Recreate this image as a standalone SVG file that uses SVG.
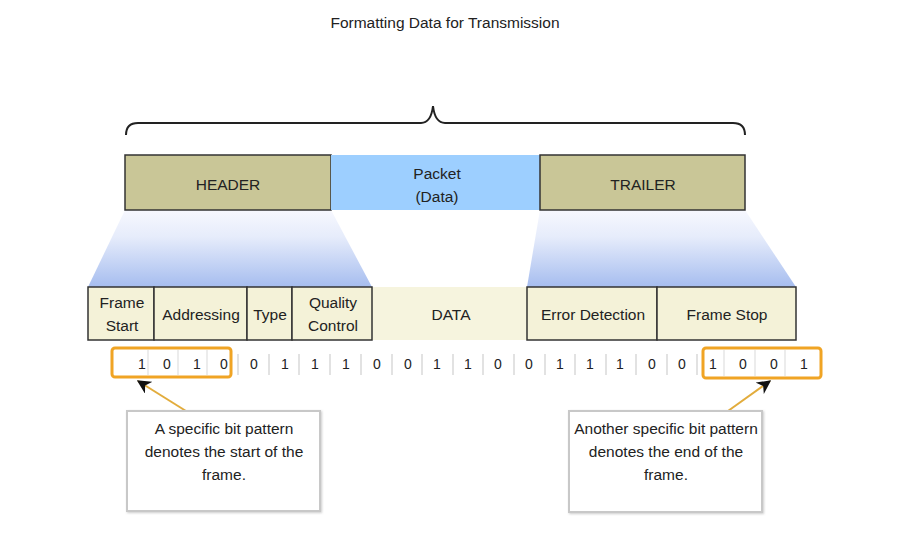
<svg xmlns="http://www.w3.org/2000/svg" width="917" height="534" viewBox="0 0 917 534">
<defs>
<linearGradient id="fade" x1="0" y1="0" x2="0" y2="1">
<stop offset="0" stop-color="#f7f8fe"/>
<stop offset="0.35" stop-color="#e6ecfb"/>
<stop offset="1" stop-color="#a6bdef"/>
</linearGradient>
<marker id="ah" viewBox="0 0 10 10" refX="9" refY="5" markerWidth="7" markerHeight="7" orient="auto-start-reverse" markerUnits="strokeWidth">
<path d="M0,0 L10,5 L0,10 L3,5 z" fill="#111"/>
</marker>
<filter id="sh" x="-10%" y="-10%" width="120%" height="120%">
<feDropShadow dx="1" dy="1" stdDeviation="1" flood-color="#999" flood-opacity="0.5"/>
</filter>
</defs>
<style>
text{font-family:"Liberation Sans",Arial,sans-serif;font-size:15.5px;fill:#222;text-anchor:middle;dominant-baseline:central}
.box{stroke:#333;stroke-width:1.5}
.hdr{fill:#c9c697}
.fld{fill:#f4f2d8}
.bit{font-size:14px}
.sep{stroke:#d8d8d8;stroke-width:1.5}
.obox{fill:none;stroke:#f0a424;stroke-width:3}
.odiv{stroke:#d9d9d9;stroke-width:1}
.call{fill:#fff;stroke:#c8c8c8;stroke-width:2}
.lead{stroke:#e2ac3c;stroke-width:2;fill:none}
</style>
<rect width="917" height="534" fill="#fff"/>
<text x="445" y="22">Formatting Data for Transmission</text>
<g id="brace">
<path d="M126,135 Q126,123 138,123 L421,123 Q431,123 433,106 Q435,123 445,123 L733,123 Q745,123 745,135" fill="none" stroke="#222" stroke-width="2"/>
</g>
<g id="fades">
<polygon points="125,210 331,210 372,287 88,287" fill="url(#fade)"/>
<polygon points="540,210 745,210 796,287 527,287" fill="url(#fade)"/>
</g>
<g id="header"><rect class="box hdr" x="125" y="155" width="206" height="55"/><text x="228" y="184">HEADER</text></g>
<g id="packet"><rect x="331" y="155" width="209" height="55" fill="#9dcfff"/><text x="437" y="173">Packet</text><text x="437" y="196">(Data)</text></g>
<g id="trailer"><rect class="box hdr" x="540" y="155" width="205" height="55"/><text x="643" y="184">TRAILER</text></g>
<g id="data"><rect x="372" y="287" width="155" height="53" fill="#f6f4de"/><text x="451" y="314">DATA</text></g>
<g id="framestart"><rect class="box fld" x="88" y="287" width="66" height="53"/><text x="122" y="302">Frame</text><text x="122" y="325">Start</text></g>
<g id="addressing"><rect class="box fld" x="154" y="287" width="93" height="53"/><text x="201" y="314">Addressing</text></g>
<g id="type"><rect class="box fld" x="247" y="287" width="45" height="53"/><text x="270" y="314">Type</text></g>
<g id="quality"><rect class="box fld" x="292" y="287" width="80" height="53"/><text x="333" y="302">Quality</text><text x="333" y="325">Control</text></g>
<g id="errordetection"><rect class="box fld" x="527" y="287" width="130" height="53"/><text x="593" y="314">Error Detection</text></g>
<g id="framestop"><rect class="box fld" x="657" y="287" width="139" height="53"/><text x="727" y="314">Frame Stop</text></g>
<g id="startbits">
<rect x="112" y="348" width="119" height="29" rx="3" fill="#fff"/>
<line class="odiv" x1="148" y1="350" x2="148" y2="375"/><line class="odiv" x1="178" y1="350" x2="178" y2="375"/><line class="odiv" x1="207" y1="350" x2="207" y2="375"/>
<text class="bit" x="142" y="364">1</text><text class="bit" x="167" y="364">0</text><text class="bit" x="197" y="364">1</text><text class="bit" x="224" y="364">0</text>
<rect class="obox" x="112" y="348" width="119" height="29" rx="3"/>
</g>
<g id="bits">
<line class="sep" x1="238" y1="354" x2="238" y2="375"/><line class="sep" x1="269" y1="354" x2="269" y2="375"/><line class="sep" x1="299" y1="354" x2="299" y2="375"/><line class="sep" x1="330" y1="354" x2="330" y2="375"/><line class="sep" x1="361" y1="354" x2="361" y2="375"/><line class="sep" x1="392" y1="354" x2="392" y2="375"/><line class="sep" x1="422" y1="354" x2="422" y2="375"/><line class="sep" x1="453" y1="354" x2="453" y2="375"/><line class="sep" x1="483" y1="354" x2="483" y2="375"/><line class="sep" x1="514" y1="354" x2="514" y2="375"/><line class="sep" x1="545" y1="354" x2="545" y2="375"/><line class="sep" x1="575" y1="354" x2="575" y2="375"/><line class="sep" x1="606" y1="354" x2="606" y2="375"/><line class="sep" x1="636" y1="354" x2="636" y2="375"/><line class="sep" x1="667" y1="354" x2="667" y2="375"/><line class="sep" x1="697" y1="354" x2="697" y2="375"/>
<text class="bit" x="254" y="364">0</text><text class="bit" x="285" y="364">1</text><text class="bit" x="315" y="364">1</text><text class="bit" x="346" y="364">1</text><text class="bit" x="377" y="364">0</text><text class="bit" x="408" y="364">0</text><text class="bit" x="437" y="364">1</text><text class="bit" x="468" y="364">1</text><text class="bit" x="498" y="364">0</text><text class="bit" x="529" y="364">0</text><text class="bit" x="560" y="364">1</text><text class="bit" x="590" y="364">1</text><text class="bit" x="620" y="364">1</text><text class="bit" x="652" y="364">0</text><text class="bit" x="682" y="364">0</text>
</g>
<g id="stopbits">
<rect x="703" y="348" width="118" height="30" rx="3" fill="#fff"/>
<line class="odiv" x1="724" y1="350" x2="724" y2="376"/><line class="odiv" x1="755" y1="350" x2="755" y2="376"/><line class="odiv" x1="785" y1="350" x2="785" y2="376"/>
<text class="bit" x="713" y="364">1</text><text class="bit" x="743" y="364">0</text><text class="bit" x="774" y="364">0</text><text class="bit" x="804" y="364">1</text>
<rect class="obox" x="703" y="348" width="118" height="30" rx="3"/>
</g>
<g id="connectors">
<line class="lead" x1="186" y1="411" x2="138" y2="381" marker-end="url(#ah)"/>
<line class="lead" x1="728" y1="411" x2="770" y2="381" marker-end="url(#ah)"/>
</g>
<g id="callout-start">
<rect class="call" x="127" y="411" width="193" height="100" filter="url(#sh)"/>
<text x="224" y="428">A specific bit pattern</text><text x="224" y="451">denotes the start of the</text><text x="224" y="474">frame.</text>
</g>
<g id="callout-end">
<rect class="call" x="569" y="411" width="193" height="101" filter="url(#sh)"/>
<text x="666" y="428">Another specific bit pattern</text><text x="666" y="451">denotes the end of the</text><text x="666" y="474">frame.</text>
</g>
</svg>
